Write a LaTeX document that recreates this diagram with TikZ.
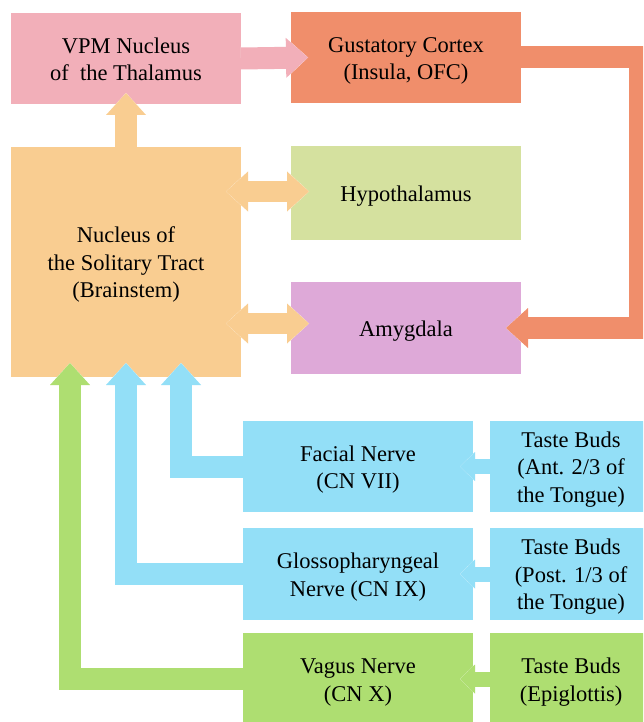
\documentclass[tikz,border=0pt]{standalone}
\usepackage{fontspec}
\setmainfont{Liberation Serif}
\usetikzlibrary{arrows.meta}

\definecolor{vpmpink}{HTML}{F2AFB9}
\definecolor{gustorange}{HTML}{F08E6B}
\definecolor{ntsyellow}{HTML}{F9CD91}
\definecolor{hypogreen}{HTML}{D5E19F}
\definecolor{amygpurple}{HTML}{DEA9D8}
\definecolor{nerveblue}{HTML}{93DFF7}
\definecolor{vagusgreen}{HTML}{AEDE71}

% fixed line box, as the slide text is centred on whole lines
\newcommand{\lnstrut}{\rule[-5.3pt]{0pt}{27.3pt}}

\begin{document}
\begin{tikzpicture}[x=1pt, y=-1pt,
	box/.style={anchor=north west, inner sep=0pt, outer sep=0pt, minimum width=230pt, minimum height=91pt,
		align=center, font=\fontsize{22.5}{27.5}\selectfont},
	fat/.style={draw=#1, line width=22pt, -{Triangle[width=40pt, length=22pt, line width=0pt]},
		preaction={draw=white, line width=24pt, -{Triangle[width=44pt, length=24pt, line width=0pt]}}},
	dfat/.style={draw=#1, line width=21pt, arrows={Triangle[width=40pt, length=22pt, line width=0pt]-Triangle[width=40pt, length=22pt, line width=0pt]},
		preaction={draw=white, line width=23pt, arrows={Triangle[width=44pt, length=24pt, line width=0pt]-Triangle[width=44pt, length=24pt, line width=0pt]}}},
	sfat/.style={draw=#1, line width=15pt, -{Triangle[width=29pt, length=15pt, line width=0pt]},
		preaction={draw=white, line width=17pt, -{Triangle[width=33pt, length=17pt, line width=0pt]}}}]
		\useasboundingbox (0,0) rectangle (643,722);
		\clip (0,0) rectangle (643,722);
		\node[box, fill=vpmpink] (vpm) at (11,13) {\lnstrut VPM Nucleus\\of\ \ the Thalamus\lnstrut};
		\node[box, fill=gustorange] (gust) at (291,12) {\lnstrut Gustatory Cortex\\(Insula, OFC)\lnstrut};
		\node[box, fill=ntsyellow, minimum height=230pt] (nts) at (11,147) {\lnstrut Nucleus of\\the Solitary Tract\\(Brainstem)\lnstrut};
		\node[box, fill=hypogreen, minimum height=94pt] (hypo) at (291,146) {\lnstrut Hypothalamus};
		\node[box, fill=amygpurple, minimum height=92pt] (amyg) at (291,282) {\lnstrut Amygdala};
		\node[box, fill=nerveblue] (facial) at (243,421) {\lnstrut Facial Nerve\\(CN VII)\lnstrut};
		\node[box, fill=nerveblue, minimum height=92pt] (glosso) at (243,528) {\lnstrut Glossopharyngeal\\Nerve (CN IX)\lnstrut};
		\node[box, fill=vagusgreen, minimum height=92pt] (vagus) at (243,633) {\lnstrut Vagus Nerve\\(CN X)\lnstrut};
		\node[box, fill=nerveblue, minimum width=162pt] (tbant) at (490,421) {\lnstrut Taste Buds\\(Ant. 2/3 of\\the Tongue)\lnstrut};
		\node[box, fill=nerveblue, minimum width=162pt, minimum height=92pt] (tbpost) at (490,528) {\lnstrut Taste Buds\\(Post. 1/3 of\\the Tongue)\lnstrut};
		\node[box, fill=vagusgreen, minimum width=162pt, minimum height=92pt] (tbepi) at (490,633) {\lnstrut Taste Buds\\(Epiglottis)\lnstrut};
		\coordinate (gturn) at (640,328);
		\draw[fat=ntsyellow] (nts.north) -- ([yshift=11pt]vpm.south);
		\draw[fat=vpmpink] (vpm.east) -- ([xshift=17pt]gust.west);
		\draw[fat=gustorange] (gust.east) -| (gturn) -- ([xshift=-15pt]amyg.east);
		\draw[dfat=ntsyellow] ([xshift=-15pt,yshift=1.5pt]nts.east |- hypo.west) -- ([xshift=18pt,yshift=1.5pt]hypo.west);
		\draw[dfat=ntsyellow] ([xshift=-15pt,yshift=4.5pt]nts.east |- amyg.west) -- ([xshift=18pt,yshift=4.5pt]amyg.west);
		\draw[fat=nerveblue] (facial.west) -| ([xshift=55pt,yshift=14pt]nts.south);
		\draw[fat=nerveblue] (glosso.west) -| ([yshift=14pt]nts.south);
		\draw[fat=vagusgreen] (vagus.west) -| ([xshift=-56pt,yshift=14pt]nts.south);
		\draw[sfat=nerveblue] (tbant.west) -- ([xshift=-13pt]facial.east);
		\draw[sfat=nerveblue] (tbpost.west) -- ([xshift=-13pt]glosso.east);
		\draw[sfat=vagusgreen] (tbepi.west) -- ([xshift=-13pt]vagus.east);
\end{tikzpicture}
\end{document}
